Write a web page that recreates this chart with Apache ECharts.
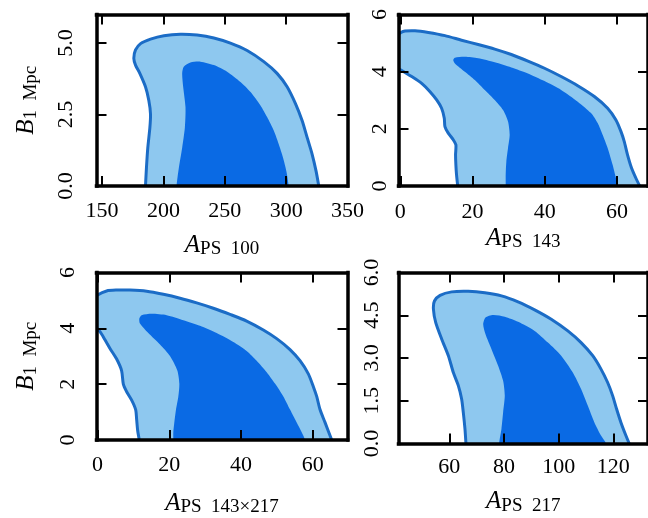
<!DOCTYPE html>
<html><head><meta charset="utf-8">
<script src="https://cdn.jsdelivr.net/npm/echarts@6/dist/echarts.min.js"></script>
<style>html,body{margin:0;padding:0;background:#fff}#c{width:648px;height:518px}</style>
</head><body><div id="c"></div>
<script>
// ---------- data ----------
// Panel 1: A_PS100 vs B_1Mpc
const p1XRange = [145.5, 350];
const p1YRange = [0, 6];
const p1XTicks = [150, 200, 250, 300, 350];
const p1YTicks = [0, 2.5, 5];
const p1Outer = [[185.4,0],[186.2,0.64],[187.3,1.34],[189,2.05],[189.5,2.52],[188.1,3.0],[185.4,3.47],[180.8,3.94],[177.3,4.23],[175.9,4.47],[177.3,4.76],[181.4,4.98],[189.5,5.14],[200.4,5.26],[213.9,5.31],[227.5,5.28],[241.1,5.18],[254.6,5.0],[268.2,4.74],[281.8,4.35],[292.6,3.94],[300.8,3.47],[307.6,2.88],[313,2.29],[317.1,1.70],[321.2,1.11],[324.4,0.52],[326.6,0]];
const p1Inner = [[210.7,0],[212.6,0.64],[215.3,1.34],[217.5,2.05],[218,2.76],[216.1,3.47],[215.3,3.94],[216.6,4.17],[222,4.32],[230.2,4.35],[241.1,4.23],[251.9,4.0],[262.8,3.64],[271,3.29],[279.1,2.82],[284.5,2.41],[290,1.93],[294,1.46],[297.5,0.99],[300.2,0.52],[302.1,0]];

// Panel 2: A_PS143
const p2XRange = [-0.5, 68.6];
const p2YRange = [0, 6];
const p2XTicks = [0, 20, 40, 60];
const p2YTicks = [0, 2, 4, 6];
const p2Outer = [[15.9,0],[15.57,0.40],[15.39,0.74],[15.3,1.09],[15.39,1.44],[14.66,1.62],[13.28,1.85],[12.36,2.08],[12.18,2.37],[11.44,2.72],[10.07,3.01],[8.23,3.30],[5.92,3.59],[3.16,3.83],[0.5,4.03],[-1.5,4.2],[-1.5,5.2],[0.2,5.37],[1.32,5.42],[4.08,5.43],[7.76,5.37],[12.36,5.26],[16.96,5.10],[21.56,4.95],[26.15,4.79],[30.75,4.60],[35.35,4.37],[39.94,4.12],[44.54,3.83],[49.14,3.51],[53.74,3.13],[57.42,2.72],[59.72,2.31],[61.1,1.91],[62.01,1.56],[62.93,1.09],[64.04,0.63],[65.23,0.28],[66.3,0]];
const p2Inner = [[29.2,0],[29.19,0.40],[29.37,0.86],[29.83,1.33],[30.29,1.79],[29.83,2.26],[28.45,2.66],[26.15,3.01],[23.39,3.36],[20.63,3.71],[17.87,4.0],[15.12,4.29],[14.66,4.41],[15.12,4.49],[17.87,4.52],[21.55,4.47],[26.15,4.33],[30.75,4.15],[35.35,3.94],[39.94,3.67],[44.54,3.36],[49.14,2.95],[52.82,2.55],[54.66,2.20],[56.03,1.79],[57.42,1.33],[58.8,0.74],[59.72,0.28],[60.3,0]];

// Panel 3: A_PS143x217
const p3XRange = [-0.3, 69.7];
const p3YRange = [0, 6];
const p3XTicks = [0, 20, 40, 60];
const p3YTicks = [0, 2, 4, 6];
const p3Outer = [[11.64,0],[11.18,0.34],[10.9,0.73],[10.62,1.09],[9.5,1.43],[8.11,1.73],[7.18,2.0],[6.71,2.48],[5.32,2.90],[3.46,3.28],[2.06,3.59],[0.67,3.88],[-1.5,4.2],[-1.5,5.0],[0,5.19],[2.53,5.34],[5.32,5.37],[9.04,5.37],[13.69,5.33],[18.34,5.22],[22.99,5.08],[27.64,4.91],[32.28,4.72],[36.93,4.5],[41.58,4.26],[46.23,3.94],[49.95,3.63],[53.67,3.24],[56.46,2.84],[58.78,2.37],[60.18,1.91],[61.11,1.56],[62.04,1.09],[63.43,0.63],[64.82,0.16],[65.29,0]];
const p3Inner = [[21.12,0],[21.12,0.28],[21.4,0.63],[21.87,1.09],[22.52,1.56],[22.8,2.02],[22.24,2.49],[20.19,3.01],[17.41,3.42],[14.15,3.83],[11.83,4.17],[11.64,4.35],[12.29,4.47],[15.08,4.52],[19.27,4.47],[23.92,4.29],[28.56,4.09],[33.21,3.83],[37.86,3.51],[41.58,3.19],[44.37,2.84],[47.16,2.43],[49.48,2.02],[51.81,1.56],[53.67,1.09],[55.53,0.63],[56.92,0.28],[57.85,0]];

// Panel 4: A_PS217
const p4XRange = [41.4, 132.7];
const p4YRange = [0, 6];
const p4XTicks = [60, 80, 100, 120];
const p4YTicks = [0, 1.5, 3, 4.5, 6];
const p4Outer = [[66.08,0],[65.72,0.51],[65.11,1.09],[64.5,1.56],[63.29,2.03],[61.47,2.49],[59.65,3.08],[57.22,3.66],[55.03,4.24],[54.18,4.71],[54.55,5.0],[56.61,5.2],[60.86,5.32],[66.93,5.34],[73.0,5.29],[79.08,5.18],[85.15,4.97],[91.22,4.69],[97.29,4.36],[103.36,3.95],[108.22,3.54],[112.47,3.08],[115.5,2.61],[117.93,2.14],[119.75,1.68],[121.21,1.21],[122.79,0.74],[124.61,0.28],[125.82,0]];
const p4Inner = [[78.22,0],[79.07,0.51],[79.68,1.09],[80.29,1.68],[79.68,2.2],[77.86,2.73],[75.43,3.31],[73.24,3.83],[72.39,4.18],[73.24,4.42],[76.03,4.51],[80.29,4.45],[85.15,4.27],[91.22,3.95],[96.08,3.54],[100.93,3.08],[105.18,2.49],[108.22,1.91],[110.65,1.33],[113.08,0.74],[115.5,0.28],[117.32,0]];

const xNames = ['PS\u2002100', 'PS\u2002143', 'PS\u2002143\u00d7217', 'PS\u2002217'];
const yNameSub = '1\u2002Mpc';

// ---------- styling / layout ----------
const FONT = 'Liberation Serif';
const LIGHT = '#8ec8ef', DARK = '#0a6ae4', EDGE = '#1b6cc6';
const panels = [
  {grid:{left:96.5, top:14.5, width:251, height:171.5}, xr:p1XRange, yr:p1YRange, xt:p1XTicks, yt:p1YTicks, outer:p1Outer, inner:p1Inner,
   xfmt:v=>String(v), yfmt:v=>v.toFixed(1), yName:true, yMargin:19, xMargin:14, nameGap:45},
  {grid:{left:398.5, top:14.5, width:251, height:171.5}, xr:p2XRange, yr:p2YRange, xt:p2XTicks, yt:p2YTicks, outer:p2Outer, inner:p2Inner,
   xfmt:v=>String(v), yfmt:v=>String(v), yName:false, yMargin:7, xMargin:15, nameGap:38},
  {grid:{left:96.5, top:272.5, width:251, height:171}, xr:p3XRange, yr:p3YRange, xt:p3XTicks, yt:p3YTicks, outer:p3Outer, inner:p3Inner,
   xfmt:v=>String(v), yfmt:v=>String(v), yName:true, yMargin:17, xMargin:14, nameGap:49},
  {grid:{left:398.5, top:272.5, width:251, height:171}, xr:p4XRange, yr:p4YRange, xt:p4XTicks, yt:p4YTicks, outer:p4Outer, inner:p4Inner,
   xfmt:v=>String(v), yfmt:v=>v.toFixed(1), yName:false, yMargin:15, xMargin:13, nameGap:44}
];

const richName = {
  a: {fontFamily: FONT, fontStyle: 'italic', fontSize: 25, lineHeight: 28, color: '#000'},
  s: {fontFamily: FONT, fontSize: 19, lineHeight: 19, verticalAlign: 'bottom', color: '#000'}
};

const grids = [], xAxes = [], yAxes = [], series = [];
const tick = (vals) => ({show: true, inside: true, length: 10, lineStyle: {color: '#000', width: 2}, customValues: vals});
const spine = {show: true, onZero: false, lineStyle: {color: '#000', width: 3.5, cap: 'square'}};

panels.forEach((p, i) => {
  grids.push(Object.assign({show: false}, p.grid));
  const baseX = {gridIndex: i, type: 'value', min: p.xr[0], max: p.xr[1], splitLine: {show: false}, axisLine: spine, z: 10};
  const baseY = {gridIndex: i, type: 'value', min: p.yr[0], max: p.yr[1], splitLine: {show: false}, axisLine: spine, z: 10};
  xAxes.push(Object.assign({}, baseX, {
    position: 'bottom', axisTick: tick(p.xt),
    axisLabel: {customValues: p.xt, formatter: p.xfmt, fontFamily: FONT, fontSize: 22, color: '#000', margin: p.xMargin},
    name: '{a|A}{s|' + xNames[i] + '}', nameLocation: 'middle', nameGap: p.nameGap,
    nameTextStyle: {rich: richName}
  }));
  xAxes.push(Object.assign({}, baseX, {position: 'top', axisTick: tick(p.xt), axisLabel: {show: false}}));
  const yl = Object.assign({}, baseY, {
    position: 'left', axisTick: tick(p.yt),
    axisLabel: {customValues: p.yt, formatter: p.yfmt, fontFamily: FONT, fontSize: 22, color: '#000', rotate: 90, margin: p.yMargin}
  });
  if (p.yName) {
    Object.assign(yl, {name: '{a|B}{s|' + yNameSub + '}', nameLocation: 'middle', nameRotate: 90, nameGap: 56, nameTextStyle: {rich: richName}});
  }
  yAxes.push(yl);
  yAxes.push(Object.assign({}, baseY, {position: 'right', axisTick: tick(p.yt), axisLabel: {show: false}}));

  const mk = (pts, fill, stroke, z) => ({
    type: 'custom', coordinateSystem: 'cartesian2d', xAxisIndex: 2*i, yAxisIndex: 2*i,
    clip: true, silent: true, z: z, data: pts, encode: {x: 0, y: 1},
    renderItem: function (params, api) {
      if (params.dataIndex !== 0) return null;
      const cs = params.coordSys;
      const pix = pts.map(q => api.coord(q));
      const yb = cs.y + cs.height + 8;
      const poly = pix.concat([[pix[pix.length-1][0], yb], [pix[0][0], yb]]);
      const children = [{type: 'polygon', shape: {points: poly, smooth: 0.25}, style: {fill: fill, stroke: null}}];
      if (stroke) children.push({type: 'polyline', shape: {points: pix, smooth: 0.25}, style: {fill: null, stroke: stroke, lineWidth: 3}});
      return {type: 'group', children: children};
    }
  });
  series.push(mk(p.outer, LIGHT, EDGE, 2));
  series.push(mk(p.inner, DARK, null, 3));
});

const chart = echarts.init(document.getElementById('c'), null, {renderer: 'canvas'});
chart.setOption({animation: false, backgroundColor: '#fff', grid: grids, xAxis: xAxes, yAxis: yAxes, series: series});
</script></body></html>
